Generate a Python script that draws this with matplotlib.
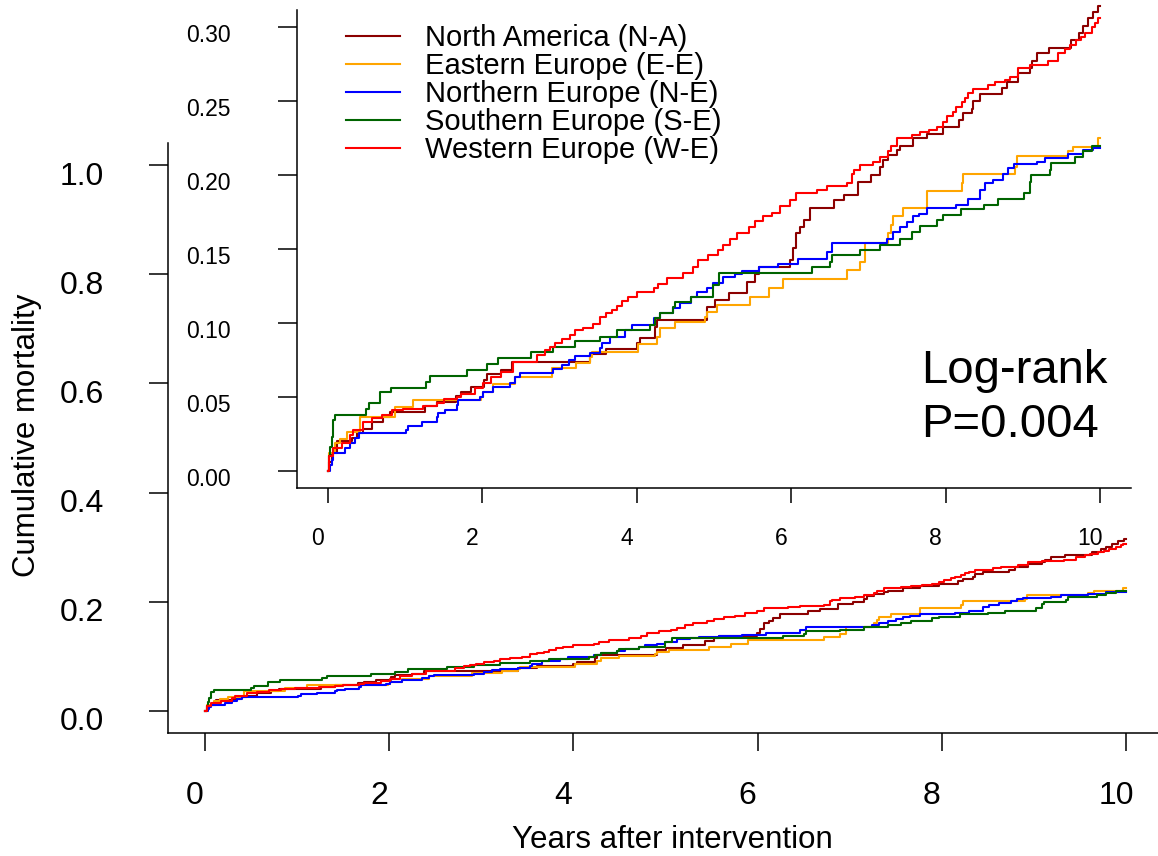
import numpy as np
import matplotlib
matplotlib.use("Agg")
import matplotlib.pyplot as plt
from matplotlib.transforms import ScaledTranslation

plt.rcParams['font.family'] = ['Liberation Sans', 'DejaVu Sans']

# ---------------- data ----------------
regions = ["North America (N-A)", "Eastern Europe (E-E)", "Northern Europe (N-E)",
           "Southern Europe (S-E)", "Western Europe (W-E)"]
colors = ["#8B0000", "#FFA500", "#0000FF", "#006400", "#FF0000"]

# (years, cumulative mortality) step points
na_steps = [(0, 0), (0.02, 0.006), (0.05, 0.0118), (0.12, 0.0203), (0.31, 0.022), (0.38, 0.0253),
            (0.46, 0.028), (0.57, 0.0331), (0.72, 0.0365), (0.81, 0.040), (1.26, 0.0438), (1.41, 0.0467),
            (1.66, 0.0505), (1.73, 0.0534), (1.86, 0.0568), (2.02, 0.0614), (2.06, 0.0654), (2.25, 0.068),
            (2.38, 0.0737), (3.40, 0.079), (3.61, 0.0821), (4.00, 0.0862), (4.04, 0.0896), (4.24, 0.0974),
            (4.26, 0.102), (4.91, 0.111), (5.01, 0.1155), (5.19, 0.120), (5.43, 0.128), (5.53, 0.133),
            (5.58, 0.138), (5.99, 0.1426), (6.03, 0.1505), (6.07, 0.1606), (6.12, 0.165), (6.17, 0.1696),
            (6.24, 0.1775), (6.55, 0.183), (6.68, 0.1865), (6.87, 0.1955), (7.04, 0.200), (7.15, 0.2057),
            (7.19, 0.210), (7.26, 0.2136), (7.37, 0.217), (7.41, 0.220), (7.58, 0.225), (7.76, 0.228),
            (7.97, 0.2327), (8.17, 0.2373), (8.23, 0.2418), (8.34, 0.245), (8.36, 0.250), (8.45, 0.2549),
            (8.73, 0.2587), (8.79, 0.2632), (8.94, 0.2689), (9.09, 0.2722), (9.12, 0.2774), (9.18, 0.2824),
            (9.34, 0.2862), (9.63, 0.2914), (9.73, 0.2959), (9.78, 0.3009), (9.85, 0.306), (9.91, 0.3105),
            (9.98, 0.3146), (10.0, 0.3146)]

ee_steps = [(0, 0), (0.02, 0.0118), (0.095, 0.0185), (0.16, 0.0212), (0.25, 0.0264), (0.42, 0.0365),
            (0.87, 0.0429), (1.11, 0.0478), (1.99, 0.050), (2.01, 0.0534), (2.14, 0.0585), (2.43, 0.0636),
            (2.90, 0.0693), (3.22, 0.073), (3.40, 0.077), (3.42, 0.080), (4.02, 0.0857), (4.26, 0.0907),
            (4.30, 0.0963), (4.50, 0.1008), (4.89, 0.104), (4.91, 0.1076), (5.04, 0.112), (5.47, 0.1177),
            (5.71, 0.1234), (5.90, 0.1297), (6.72, 0.1355), (6.89, 0.1414), (6.96, 0.1539), (7.26, 0.1606),
            (7.30, 0.166), (7.32, 0.172), (7.45, 0.178), (7.76, 0.1895), (8.21, 0.195), (8.23, 0.201),
            (8.90, 0.2057), (8.92, 0.213), (9.59, 0.216), (9.65, 0.219), (9.97, 0.225), (10.0, 0.225)]

ne_steps = [(0, 0), (0.03, 0.004), (0.05, 0.007), (0.07, 0.0118), (0.22, 0.0152), (0.29, 0.0185),
            (0.35, 0.022), (0.40, 0.0257), (1.01, 0.0275), (1.04, 0.0302), (1.22, 0.0331), (1.41, 0.0365),
            (1.43, 0.0388), (1.52, 0.041), (1.67, 0.0444), (1.69, 0.0478), (1.97, 0.050), (2.01, 0.0534),
            (2.14, 0.0568), (2.36, 0.0595), (2.43, 0.0636), (2.49, 0.0659), (2.92, 0.0686), (3.03, 0.0715),
            (3.12, 0.0749), (3.20, 0.0776), (3.40, 0.0794), (3.53, 0.0828), (3.55, 0.0862), (3.66, 0.0907),
            (3.85, 0.0952), (3.94, 0.0986), (4.22, 0.103), (4.30, 0.1065), (4.47, 0.110), (4.56, 0.1133),
            (4.71, 0.1177), (4.78, 0.121), (4.91, 0.1234), (4.99, 0.1268), (5.12, 0.1313), (5.27, 0.133),
            (5.36, 0.1353), (5.58, 0.138), (5.83, 0.140), (6.09, 0.143), (6.46, 0.148), (6.53, 0.1543),
            (7.24, 0.157), (7.32, 0.1617), (7.41, 0.165), (7.50, 0.1685), (7.58, 0.172), (7.65, 0.174),
            (7.76, 0.178), (8.14, 0.180), (8.29, 0.1836), (8.45, 0.190), (8.51, 0.195), (8.62, 0.197),
            (8.75, 0.2007), (8.81, 0.2046), (8.88, 0.2073), (9.18, 0.209), (9.29, 0.2118), (9.59, 0.214),
            (9.78, 0.217), (9.91, 0.2185), (10.0, 0.2185)]

se_steps = [(0, 0), (0.02, 0.010), (0.03, 0.016), (0.05, 0.023), (0.07, 0.034), (0.10, 0.038),
            (0.50, 0.0415), (0.53, 0.0456), (0.68, 0.0535), (0.82, 0.056), (1.27, 0.060), (1.33, 0.064),
            (1.80, 0.068), (2.06, 0.072), (2.21, 0.0765), (2.63, 0.080), (2.92, 0.084), (3.20, 0.0878),
            (3.53, 0.0907), (3.74, 0.0952), (4.17, 0.0986), (4.24, 0.103), (4.30, 0.1065), (4.47, 0.1105),
            (4.50, 0.1144), (4.71, 0.1177), (4.99, 0.1256), (5.07, 0.1336), (6.27, 0.138), (6.50, 0.1414),
            (6.53, 0.146), (6.89, 0.149), (7.15, 0.153), (7.41, 0.157), (7.56, 0.1617), (7.67, 0.1656),
            (7.89, 0.1696), (7.97, 0.173), (8.20, 0.177), (8.50, 0.180), (8.68, 0.1836), (9.02, 0.188),
            (9.09, 0.1955), (9.11, 0.200), (9.35, 0.2035), (9.37, 0.208), (9.68, 0.2125), (9.78, 0.216),
            (9.89, 0.2197), (10.0, 0.2197)]

we_steps = [(0, 0), (0.02, 0.010), (0.07, 0.0152), (0.18, 0.019), (0.29, 0.024), (0.33, 0.0275),
            (0.46, 0.0331), (0.57, 0.0354), (0.70, 0.038), (0.83, 0.041), (0.98, 0.042), (1.24, 0.0438),
            (1.41, 0.046), (1.50, 0.0483), (1.67, 0.050), (1.73, 0.0519), (1.91, 0.0557), (2.01, 0.059),
            (2.12, 0.0632), (2.25, 0.067), (2.40, 0.0737), (2.71, 0.0783), (2.81, 0.0817), (2.88, 0.0839),
            (2.94, 0.0862), (3.03, 0.089), (3.14, 0.0918), (3.20, 0.0952), (3.31, 0.0968), (3.44, 0.099),
            (3.53, 0.104), (3.61, 0.1065), (3.68, 0.1087), (3.74, 0.1114), (3.81, 0.115), (3.89, 0.1177),
            (4.00, 0.121), (4.22, 0.1234), (4.28, 0.126), (4.39, 0.1306), (4.60, 0.1336), (4.73, 0.138),
            (4.80, 0.1426), (4.93, 0.146), (5.06, 0.149), (5.12, 0.1527), (5.21, 0.157), (5.30, 0.1606),
            (5.45, 0.165), (5.53, 0.169), (5.64, 0.172), (5.75, 0.1746), (5.86, 0.179), (5.99, 0.183),
            (6.07, 0.188), (6.33, 0.190), (6.46, 0.1926), (6.72, 0.195), (6.79, 0.201), (6.81, 0.2035),
            (6.89, 0.207), (7.06, 0.209), (7.15, 0.2125), (7.26, 0.216), (7.30, 0.220), (7.37, 0.225),
            (7.56, 0.227), (7.67, 0.2294), (7.78, 0.2305), (7.89, 0.2327), (7.97, 0.236), (8.02, 0.240),
            (8.10, 0.243), (8.14, 0.246), (8.21, 0.2497), (8.25, 0.252), (8.29, 0.2554), (8.36, 0.258),
            (8.55, 0.261), (8.64, 0.2632), (8.77, 0.2643), (8.83, 0.2666), (8.94, 0.2722), (9.09, 0.2745),
            (9.33, 0.2774), (9.46, 0.2824), (9.55, 0.2851), (9.61, 0.288), (9.69, 0.2914), (9.76, 0.2932),
            (9.81, 0.2959), (9.89, 0.3004), (9.94, 0.3031), (9.97, 0.306), (10.0, 0.306)]

series = [na_steps, ee_steps, ne_steps, se_steps, we_steps]

x_ticks = [0, 2, 4, 6, 8, 10]
x_tick_labels = ["0", "2", "4", "6", "8", "10"]
main_y_ticks = [0.0, 0.2, 0.4, 0.6, 0.8, 1.0]
main_y_tick_labels = ["0.0", "0.2", "0.4", "0.6", "0.8", "1.0"]
inset_y_ticks = [0.00, 0.05, 0.10, 0.15, 0.20, 0.25, 0.30]
inset_y_tick_labels = ["0.00", "0.05", "0.10", "0.15", "0.20", "0.25", "0.30"]

x_label = "Years after intervention"
y_label = "Cumulative mortality"
stat_lines = ["Log-rank", "P=0.004"]

# ---------------- figure ----------------
DPI = 100
W, H = 1158, 856
fig = plt.figure(figsize=(W / DPI, H / DPI), dpi=DPI)


def px_rect(l, t, r, b):
    return [l / W, 1 - b / H, (r - l) / W, (b - t) / H]


def fx(px):
    return px / W


def fy(py):
    return 1 - py / H


def shift_labels(labels, dx_px, dy_px):
    off = ScaledTranslation(dx_px / DPI, dy_px / DPI, fig.dpi_scale_trans)
    for lab in labels:
        lab.set_transform(lab.get_transform() + off)


ax = fig.add_axes(px_rect(168, 143.2, 1163, 732.8))
axi = fig.add_axes(px_rect(296.8, 9.6, 1130.9, 488.4))

LW = 1.5
for steps, col, lab in zip(series, colors, regions):
    t = [p[0] for p in steps]
    v = [p[1] for p in steps]
    ax.step(t, v, where="post", color=col, lw=LW)
    axi.step(t, v, where="post", color=col, lw=LW, label=lab, clip_on=False)

for a in (ax, axi):
    a.patch.set_visible(False)
    a.spines["top"].set_visible(False)
    a.spines["right"].set_visible(False)
    for s in ("left", "bottom"):
        a.spines[s].set_linewidth(1.1)

# main axes
ax.set_xlim(-0.4, 10.4)
ax.set_ylim(-0.04, 1.04)
ax.set_xticks(x_ticks)
ax.set_xticklabels(x_tick_labels, fontsize=23)
ax.set_yticks(main_y_ticks)
ax.set_yticklabels(main_y_tick_labels, fontsize=23)
ax.tick_params(axis="x", direction="out", length=13, width=1.1, pad=22, colors="black")
ax.tick_params(axis="y", direction="out", length=14, width=1.1, pad=32, colors="black")
shift_labels(ax.get_xticklabels(), -10, 0)
shift_labels(ax.get_yticklabels(), 0, -8)

# inset axes
axi.set_xlim(-0.4, 10.4)
axi.set_ylim(-0.012, 0.312)
axi.set_xticks(x_ticks)
axi.set_xticklabels(x_tick_labels, fontsize=16.5)
axi.set_yticks(inset_y_ticks)
axi.set_yticklabels(inset_y_tick_labels, fontsize=16.5)
axi.tick_params(axis="x", direction="out", length=11, width=1.1, pad=17)
axi.tick_params(axis="y", direction="out", length=13.5, width=1.1, pad=34)
shift_labels(axi.get_xticklabels(), -10, 0)
shift_labels(axi.get_yticklabels(), 0, -6)

# legend
leg = axi.legend(loc="upper left", bbox_to_anchor=(fx(346), fy(24)), bbox_transform=fig.transFigure,
                 frameon=False, fontsize=21, handlelength=1.86, handletextpad=0.86,
                 labelspacing=0.0, borderpad=0, borderaxespad=0)

# labels and annotation
fig.text(fx(672), fy(840), x_label, fontsize=22.5, ha="center", va="center")
fig.text(fx(27), fy(435), y_label, fontsize=22.5, ha="center", va="center", rotation=90)
fig.text(fx(921), fy(383), stat_lines[0], fontsize=34, ha="left", va="baseline")
fig.text(fx(921), fy(437), stat_lines[1], fontsize=34, ha="left", va="baseline")

fig.savefig("out.png", dpi=DPI)
